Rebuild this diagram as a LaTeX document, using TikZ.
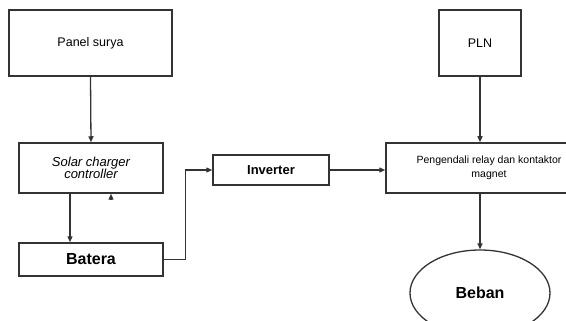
\documentclass[tikz,border=0pt]{standalone}
\usepackage{fontspec}
\setmainfont{Liberation Sans}
\usetikzlibrary{arrows.meta,shapes.geometric}
\tikzset{
  blk/.style={draw=black!80, line width=1.5pt, fill=white, inner sep=0pt, align=center},
  arr/.style={draw=black!80, line width=1.3pt, -{Triangle[length=6pt,width=5pt]}},
  txt/.style={font=\fontsize{12.5}{13}\selectfont},
  btxt/.style={font=\bfseries\fontsize{16}{17}\selectfont},
}
\begin{document}
\begin{tikzpicture}[x=1pt,y=-1pt]
\useasboundingbox (0,0) rectangle (566,321);
\clip (0,0) rectangle (566,321);
\fill[white] (0,0) rectangle (566,321);
\node[blk, txt, minimum width=163pt, minimum height=66pt] (panel) at (90.5,43) {Panel surya};
\node[blk, font=\itshape\fontsize{13}{12.5}\selectfont, minimum width=144pt, minimum height=50pt] (scc) at (91,168) {Solar charger\\controller};
\node[blk, btxt, minimum width=144pt, minimum height=33pt] (bat) at (91,259.5) {Batera};
\node[blk, font=\bfseries\fontsize{13}{14}\selectfont, minimum width=116pt, minimum height=30pt] (inv) at (271,170) {Inverter};
\node[blk, font=\fontsize{10.5}{13.5}\selectfont, minimum width=206pt, minimum height=50pt] (peng) at (489,168) {Pengendali relay dan kontaktor\\magnet};
\node[blk, txt, minimum width=82pt, minimum height=66pt] (pln) at (480,43) {PLN};
\node[blk, btxt, ellipse, line width=1.3pt, minimum width=140pt, minimum height=86pt] (beban) at (480,293) {Beban};
\coordinate (cx) at (70,0);
\coordinate (stub) at (111,200);
\draw[arr] (panel.south) -- (scc.north);
\draw[arr] (cx |- scc.south) -- (cx |- bat.north);
\draw[arr] (stub) -- (stub |- scc.south);
\draw[arr] (bat.east) -- ++(22,0) |- (inv.west);
\draw[arr] (inv.east) -- (inv.east -| peng.west);
\draw[arr] (pln.south) -- (pln.south |- peng.north);
\draw[arr] (pln.south |- peng.south) -- (beban.north);
\end{tikzpicture}
\end{document}
